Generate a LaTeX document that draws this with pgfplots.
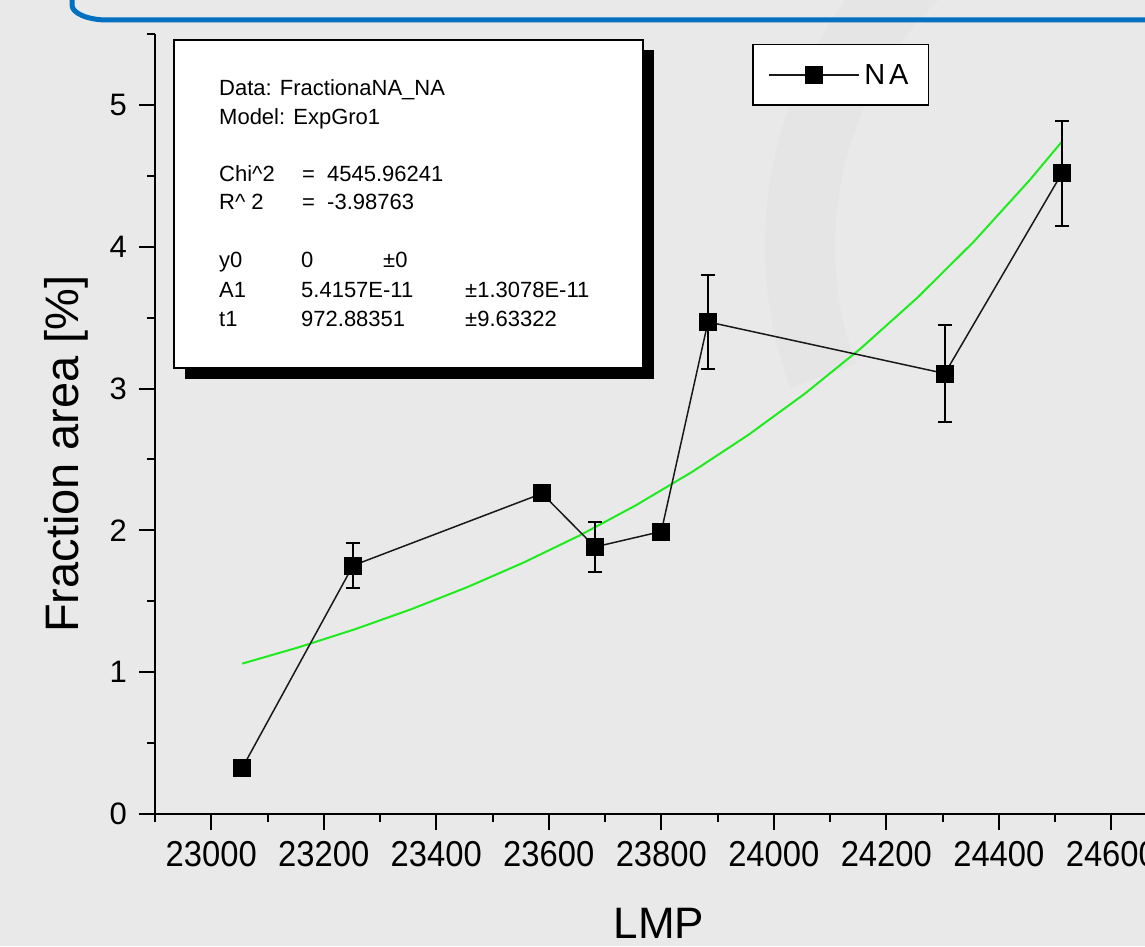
\documentclass[border=0pt]{standalone}
\usepackage{pgfplots}
\pgfplotsset{compat=1.18}
\usepackage{fontspec}
\setmainfont{Liberation Sans}
\newfontfamily\narrowfont[FakeStretch=0.91]{Liberation Sans}
\definecolor{bg}{RGB}{233,233,233}
\definecolor{wm}{RGB}{229,229,229}
\definecolor{fitgreen}{RGB}{30,235,30}
\definecolor{frameblue}{RGB}{0,112,192}
\definecolor{dataline}{RGB}{25,25,25}

\pgfplotstableread{
x      y      e
23055  0.324  0.03
23252  1.752  0.159
23588  2.260  0.04
23682  1.883  0.174
23800  1.992  0.04
23883  3.470  0.331
24304  3.106  0.342
24512  4.517  0.372
}\datatable

\begin{document}
\begin{tikzpicture}[x=1pt,y=1pt]
\useasboundingbox (0,0) rectangle (1145,946);
\fill[bg] (0,0) rectangle (1145,946);
\begin{scope}
\clip (0,0) rectangle (1145,946);
\draw[wm, line width=70] (1180,700) ++(100:380) arc[start angle=100, end angle=200, radius=380];
\draw[frameblue, line width=5] (72,960) -- (72,941) arc[start angle=180,end angle=270,x radius=35,y radius=15] -- (1160,926);
\end{scope}

\begin{axis}[
  at={(155pt,132pt)}, anchor=south west,
  scale only axis, width=1012.6pt, height=780pt,
  xmin=22900, xmax=24700, ymin=0, ymax=5.5,
  axis x line*=bottom, axis y line*=left,
  axis line style={line width=2.5pt, black},
  xtick={23000,23200,...,24600}, ytick={0,1,2,3,4,5},
  minor xtick={22900,23100,...,24700}, minor ytick={0.5,1.5,...,5.5},
  scaled x ticks=false,
  xticklabel={\pgfmathprintnumber[fixed, precision=0, 1000 sep={}]{\tick}},
  tick align=outside, major tick length=16pt, minor tick length=8pt,
  every tick/.style={black, line width=2pt},
  /pgf/number format/1000 sep={},
  /pgf/number format/assume math mode=true,
  xticklabel style={font=\narrowfont\fontsize{36}{36}\selectfont, inner sep=0pt, yshift=-11pt},
  yticklabel style={font=\fontsize{31}{31}\selectfont, inner sep=0pt, xshift=-12pt},
  xlabel={LMP},
  ylabel={Fraction area [\%]},
  xlabel style={at={(axis description cs:0.4977,-0.1590)}, anchor=base, inner sep=0pt, font=\fontsize{44}{44}\selectfont},
  ylabel style={at={(axis description cs:-0.0751,0.4615)}, anchor=base, inner sep=0pt, font=\fontsize{47}{47}\selectfont},
  clip=false,
  legend style={at={(axis description cs:0.5896,0.9872)}, anchor=north west,
    draw=black, line width=1.5pt, fill=white,
    font=\fontsize{29}{29}\selectfont,
    inner xsep=15.5pt, inner ysep=15pt, nodes={inner sep=4.5pt}},
  legend image code/.code={
    \draw[mark repeat=2, mark phase=2, #1] plot coordinates {(0pt,0pt) (45pt,0pt) (90pt,0pt)};
  },
]
\addplot[fitgreen, line width=2pt, forget plot] coordinates {
(23055,1.06025) (23155,1.17501) (23255,1.30222) (23355,1.44322) (23455,1.59941)
(23555,1.77257) (23655,1.96444) (23755,2.17710) (23855,2.41282) (23955,2.67401)
(24055,2.96346) (24155,3.28427) (24255,3.63983) (24355,4.03384) (24455,4.47057)
(24513,4.7453)
};
\addplot[dataline, line width=1.5pt, mark=square*, mark size=8.5pt,
  mark options={solid, fill=black, draw=black, line width=1pt},
  error bars/.cd, y dir=both, y explicit,
  error bar style={line width=2pt, black},
  error mark options={rotate=90, mark size=7pt, line width=2pt, black}]
  table[x=x, y=y, y error=e] {\datatable};
\addlegendentry{N\kern4pt A}
\end{axis}

\fill[black] (185,567) rectangle (654,896);
\filldraw[fill=white, draw=black, line width=2] (174,578) rectangle (643,906);
\begin{scope}[every node/.style={anchor=base west, inner sep=0pt, font=\fontsize{22}{22}\selectfont}]
\node at (219,850) {Data: FractionaNA\_NA};
\node at (219,821) {Model: ExpGro1};
\node at (219,764) {Chi\textasciicircum 2};
\node at (302,764) {=};
\node at (327,764) {4545.96241};
\node at (219,736) {R\textasciicircum\ 2};
\node at (302,736) {=};
\node at (327,736) {-3.98763};
\node at (219,678) {y0};
\node at (301,678) {0};
\node at (383,678) {±0};
\node at (219,648) {A1};
\node at (301,648) {5.4157E-11};
\node at (465,648) {±1.3078E-11};
\node at (219,619) {t1};
\node at (301,619) {972.88351};
\node at (465,619) {±9.63322};
\end{scope}
\end{tikzpicture}
\end{document}
